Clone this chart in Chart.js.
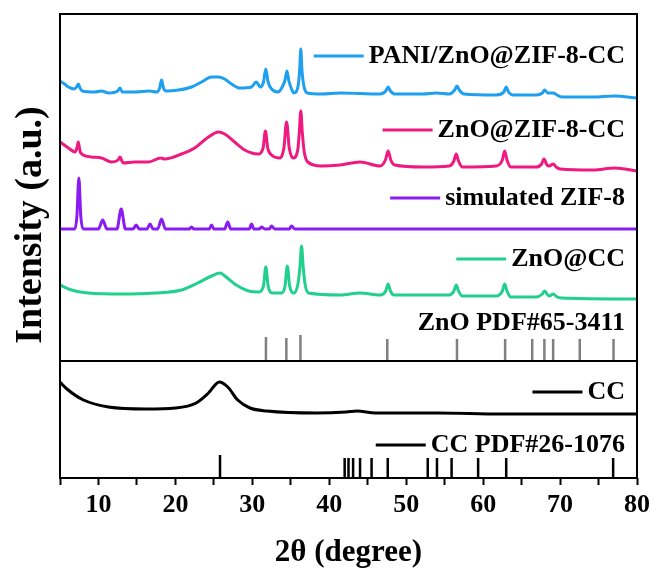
<!DOCTYPE html>
<html>
<head>
<meta charset="utf-8">
<title>XRD patterns</title>
<script src="https://cdn.jsdelivr.net/npm/chart.js"></script>
<style>
  body { margin: 0; background: #fff; }
</style>
</head>
<body>
<canvas id="chart" width="654" height="578"></canvas>

<script>
  // [2θ, intensity], intensity in stacked arbitrary units
  const pani = [[5.0,397],[5.6,394],[6.1,391],[6.86,389],[7.15,391],[7.38,394],[7.6,390],[7.9,387],[9.5,386],[10.4,387],[11.3,385],[12.5,387],[12.8,390],[13.1,386],[14.7,386],[16.6,387],[17.6,386],[17.95,390],[18.2,398],[18.45,390],[18.8,387],[20.4,388],[22.1,391],[23.4,396],[24.7,401],[25.6,401],[26.4,399],[27.3,394],[28.4,390],[29.9,391],[30.5,396],[31.05,391],[31.45,396],[31.75,409],[32.05,396],[32.5,389],[33.35,386],[33.95,392],[34.25,398],[34.5,407],[34.75,397],[35.1,389],[35.4,385],[35.95,392],[36.15,408],[36.3,429],[36.45,408],[36.7,392],[37.15,385],[39.0,384],[41.4,385],[46.6,384],[47.35,387],[47.65,391],[47.95,387],[48.5,384],[52.2,384],[53.9,385],[55.6,384],[56.3,388],[56.6,392],[56.9,388],[57.5,384],[61.7,383],[62.7,386],[63.0,391],[63.3,386],[63.9,383],[66.9,383],[67.7,385],[68.0,388],[68.4,385],[68.7,385],[69.1,385],[69.6,383],[70.2,381],[74.3,381],[77.1,382],[80.0,380]];

  const znoZif = [[5.0,336],[6.1,330],[6.95,326],[7.2,330],[7.38,336],[7.55,329],[7.7,325],[9.1,321],[10.4,320],[11.7,316],[12.55,318],[12.8,321],[13.05,317],[13.2,315],[14.7,316],[16.5,316],[18.1,320],[18.6,319],[20.8,324],[22.5,330],[24.3,341],[25.6,346],[26.4,344],[27.7,336],[29.0,328],[30.75,324],[31.4,330],[31.7,347],[32.0,330],[32.5,323],[33.6,320],[34.1,330],[34.45,356],[34.8,330],[35.3,320],[35.9,328],[36.1,345],[36.3,367],[36.5,345],[36.75,326],[37.2,316],[39.0,312],[41.4,313],[44.0,316],[46.6,312],[47.3,318],[47.65,327],[48.0,318],[48.5,313],[52.2,311],[55.6,312],[56.2,317],[56.5,324],[56.8,317],[57.3,311],[61.7,312],[62.5,318],[62.8,327],[63.1,318],[63.6,311],[66.9,311],[67.6,314],[67.9,319],[68.3,313],[68.6,312],[69.1,314],[69.5,311],[70.0,309],[74.3,308],[77.1,310],[80.0,307]];

  const zif8 = [[5.0,249],[6.95,249],[7.2,262],[7.45,300],[7.7,262],[8.0,249],[10.0,249],[10.55,258],[11.1,249],[12.4,249],[12.95,269],[13.5,249],[14.5,249],[14.9,253],[15.3,249],[16.3,249],[16.7,254],[17.1,249],[17.7,249],[18.2,259],[18.7,249],[21.8,249],[22.1,251],[22.4,249],[24.4,249],[24.7,253],[25.0,249],[26.4,249],[26.8,256],[27.2,249],[29.6,249],[29.9,254],[30.2,249],[30.9,249],[31.2,251],[31.6,249],[32.2,249],[32.5,252],[32.9,249],[34.8,249],[35.1,252],[35.5,249],[80.0,249]];

  const znoCC = [[5.0,193],[6.5,188],[8.7,185],[13.0,184],[17.3,185],[20.8,188],[22.9,195],[24.7,202],[25.8,205],[26.6,201],[27.9,193],[29.5,187],[30.8,186],[31.45,192],[31.75,211],[32.05,192],[32.6,185],[33.8,185],[34.25,192],[34.55,212],[34.85,192],[35.4,185],[35.95,195],[36.2,212],[36.4,232],[36.6,212],[36.85,194],[37.3,185],[41.4,183],[44.0,185],[46.6,183],[47.35,187],[47.65,194],[47.95,187],[48.4,183],[55.6,183],[56.2,187],[56.5,193],[56.8,187],[57.3,182],[61.7,182],[62.5,187],[62.8,194],[63.1,187],[63.6,181],[66.9,181],[67.7,184],[68.0,187],[68.4,183],[68.6,182],[69.1,184],[69.6,181],[70.2,180],[80.0,179]];

  const cc = [[5.0,96],[5.9,89],[8.05,78],[11.3,71],[16.2,69],[20.0,70],[22.7,75],[24.3,85],[25.7,96],[26.8,91],[28.1,78],[29.7,70],[31.9,67],[38.4,65],[42.2,66],[43.6,67],[46.0,65],[54.1,65],[62.3,64],[80.0,64]];

  // reference cards: positions and stick heights
  const znoRefPos = [31.77, 34.42, 36.25, 47.54, 56.60, 62.86, 66.38, 67.96, 69.10, 72.56, 76.95];
  const znoRefH   = [24, 23, 26, 22, 22, 22, 22, 22, 22, 22, 22];
  const ccRefPos  = [25.8, 42.0, 42.5, 43.1, 44.0, 45.5, 47.6, 52.8, 54.0, 55.9, 59.35, 63.0, 76.9];
  const ccRefH    = [23, 20, 20, 20, 20, 20, 20, 20, 20, 20, 20, 20, 20];

  const panelSplit = 117;   // boundary between the two panels
  const xTicks = [10, 20, 30, 40, 50, 60, 70, 80];

  const serif = '"Liberation Serif", "Times New Roman", serif';
  Chart.defaults.font.family = serif;
  Chart.defaults.color = '#000';

  const toXY = arr => arr.map(p => ({ x: p[0], y: p[1] }));
  function sticks(pos, h, base) {
    const out = [];
    pos.forEach((p, i) => {
      out.push({ x: p, y: base }, { x: p, y: base + h[i] }, { x: p, y: null });
    });
    return out;
  }

  function curve(data, color) {
    return { data: toXY(data), borderColor: color, borderWidth: 3, pointRadius: 0,
             showLine: true, cubicInterpolationMode: 'monotone', fill: false };
  }
  function stickSet(data, color) {
    return { data: data, borderColor: color, borderWidth: 2.5, pointRadius: 0,
             showLine: true, spanGaps: false, tension: 0, borderCapStyle: 'butt' };
  }

  // labels drawn inside the plot: [text, line colour or null, y value]
  const labels = [
    ['PANI/ZnO@ZIF-8-CC', '#1E9FF0', 422],
    ['ZnO@ZIF-8-CC', '#EE1A80', 348],
    ['simulated ZIF-8', '#8A1CF2', 280],
    ['ZnO@CC', '#22D08E', 219],
    ['ZnO PDF#65-3411', null, 155],
    ['CC', '#000', 86],
    ['CC PDF#26-1076', '#000', 33]
  ];

  const decor = {
    id: 'decor',
    afterDatasetsDraw(chart) {
      const { ctx, chartArea: a, scales: { x, y } } = chart;
      ctx.save();
      ctx.strokeStyle = '#000';
      ctx.lineWidth = 2;
      ctx.strokeRect(a.left, a.top, a.right - a.left, a.bottom - a.top);
      const yd = y.getPixelForValue(panelSplit);
      ctx.beginPath();
      ctx.moveTo(a.left, yd);
      ctx.lineTo(a.right, yd);
      ctx.stroke();

      ctx.font = 'bold 26px ' + serif;
      ctx.textAlign = 'right';
      ctx.textBaseline = 'middle';
      ctx.fillStyle = '#000';
      const right = a.right - 12;
      labels.forEach(([text, color, v]) => {
        const py = y.getPixelForValue(v);
        ctx.fillText(text, right, py);
        if (color) {
          const w = ctx.measureText(text).width;
          ctx.strokeStyle = color;
          ctx.lineWidth = 3;
          ctx.beginPath();
          ctx.moveTo(right - w - 55, py);
          ctx.lineTo(right - w - 5, py);
          ctx.stroke();
        }
      });

      // y axis title
      ctx.translate(31, 225);
      ctx.rotate(-Math.PI / 2);
      ctx.textAlign = 'center';
      ctx.font = 'bold 38px ' + serif;
      ctx.fillText('Intensity (a.u.)', 0, 0);
      ctx.restore();
    }
  };

  new Chart(document.getElementById('chart'), {
    type: 'scatter',
    data: {
      datasets: [
        curve(pani, '#1E9FF0'),
        curve(znoZif, '#EE1A80'),
        curve(zif8, '#8A1CF2'),
        curve(znoCC, '#22D08E'),
        curve(cc, '#000'),
        stickSet(sticks(znoRefPos, znoRefH, panelSplit), '#808080'),
        stickSet(sticks(ccRefPos, ccRefH, 0), '#000')
      ]
    },
    options: {
      responsive: false,
      animation: false,
      layout: { padding: { left: 60, top: 14, right: 17, bottom: 0 } },
      plugins: { legend: { display: false }, tooltip: { enabled: false } },
      scales: {
        x: {
          type: 'linear', min: 5, max: 80,
          ticks: {
            stepSize: 5, autoSkip: false, maxRotation: 0, padding: 5,
            font: { size: 26, weight: 'bold' },
            callback: v => xTicks.includes(v) ? v : ''
          },
          grid: { drawOnChartArea: false, tickLength: 7, tickWidth: 2, tickColor: '#000' },
          border: { display: false },
          title: { display: true, text: '2θ (degree)', font: { size: 31, weight: 'bold' }, padding: { top: 0, bottom: 6 } },
          afterFit(s) { s.height = 100; s.paddingLeft = 0; s.paddingRight = 0; }
        },
        y: { min: 0, max: 464, display: false }
      }
    },
    plugins: [decor]
  });
</script>
</body>
</html>
